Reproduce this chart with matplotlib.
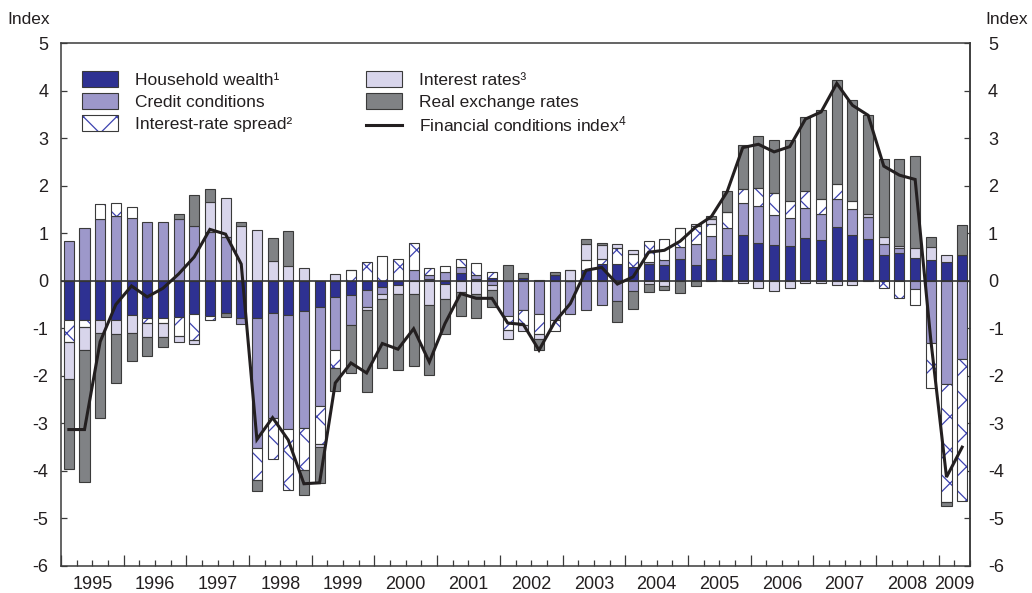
import numpy as np
import matplotlib
matplotlib.use("Agg")
import matplotlib.pyplot as plt
from matplotlib.patches import Patch
from matplotlib.lines import Line2D
from matplotlib.legend_handler import HandlerTuple
import matplotlib.transforms as mtransforms

plt.rcParams['font.family'] = ['Liberation Sans', 'DejaVu Sans']
plt.rcParams['axes.unicode_minus'] = False
plt.rcParams['hatch.linewidth'] = 0.9
plt.rcParams['mathtext.fontset'] = 'custom'
plt.rcParams['mathtext.rm'] = 'Liberation Sans'
plt.rcParams['mathtext.default'] = 'regular'

# ---------------- data (quarterly, 1995Q1 - 2009Q2) ----------------
years = [str(y) for y in range(1995, 2010)]
n_quarters = 58

household_wealth = [-0.83, -0.83, -0.83, -0.83, -0.72, -0.78, -0.78, -0.77, -0.70, -0.74,
                    -0.68, -0.78, -0.79, -0.67, -0.72, -0.64, -0.55, -0.35, -0.30, -0.20,
                    -0.14, -0.09, 0.00, 0.04, -0.07, 0.16, 0.03, 0.06, 0.00, 0.05,
                    0.02, 0.12, 0.00, 0.22, 0.36, 0.36, 0.29, 0.36, 0.33, 0.45,
                    0.33, 0.45, 0.55, 0.97, 0.80, 0.75, 0.73, 0.90, 0.85, 1.12,
                    0.97, 0.87, 0.54, 0.59, 0.47, 0.43, 0.39, 0.54]

credit_conditions = [0.83, 1.10, 1.30, 1.37, 1.31, 1.24, 1.24, 1.29, 1.16, 1.03,
                     0.92, -0.12, -2.72, -2.21, -2.39, -2.46, -2.09, -1.10, -0.63, -0.35,
                     -0.14, 0.00, 0.23, 0.09, 0.19, 0.12, 0.09, -0.09, -0.75, -0.62,
                     -0.69, -0.82, -0.71, -0.62, -0.50, -0.43, -0.22, 0.04, 0.10, 0.25,
                     0.45, 0.49, 0.56, 0.66, 0.77, 0.64, 0.58, 0.63, 0.56, 0.59,
                     0.53, 0.47, 0.23, 0.09, -0.17, -1.31, -2.17, -1.64]

interest_rate_spread = [-0.46, -0.15, 0.31, 0.27, 0.25, -0.10, -0.10, -0.39, -0.54, -0.09,
                        0.00, 0.00, -0.69, -0.88, -1.30, -0.88, -0.79, -0.38, 0.22, 0.40,
                        0.52, 0.46, 0.57, 0.13, 0.12, 0.18, 0.26, 0.13, -0.28, -0.32,
                        -0.44, -0.24, 0.00, 0.21, 0.10, 0.32, 0.28, 0.44, 0.44, 0.41,
                        0.37, 0.26, 0.34, 0.29, 0.38, 0.46, 0.36, 0.36, 0.30, 0.32,
                        0.18, 0.00, -0.15, -0.37, -0.35, -0.95, -2.49, -3.00]

interest_rates = [-0.78, -0.47, -0.27, -0.29, -0.37, -0.30, -0.30, -0.12, -0.09, 0.63,
                  0.82, 1.16, 1.07, 0.42, 0.31, 0.26, -0.06, 0.15, 0.00, -0.07,
                  -0.11, -0.19, -0.27, -0.50, -0.32, -0.23, -0.27, -0.11, -0.19, -0.12,
                  -0.09, 0.00, 0.22, 0.35, 0.29, 0.10, 0.08, -0.06, -0.12, 0.00,
                  0.05, 0.09, 0.00, -0.05, -0.16, -0.21, -0.15, -0.05, -0.05, -0.08,
                  -0.08, 0.07, 0.15, 0.06, 0.21, 0.27, 0.15, 0.00]

real_exchange_rates = [-1.88, -2.78, -1.78, -1.04, -0.60, -0.40, -0.21, 0.11, 0.64, 0.26,
                       -0.08, 0.08, -0.22, 0.47, 0.74, -0.53, -0.76, -0.49, -1.02, -1.73,
                       -1.45, -1.60, -1.53, -1.48, -0.74, -0.52, -0.51, -0.35, 0.33, 0.11,
                       -0.24, 0.07, 0.00, 0.09, 0.05, -0.44, -0.38, -0.17, -0.08, -0.25,
                       -0.12, 0.07, 0.44, 0.93, 1.10, 1.11, 1.30, 1.56, 1.89, 2.19,
                       2.13, 2.07, 1.65, 1.82, 1.94, 0.21, -0.07, 0.63]

financial_conditions_index = [-3.13, -3.13, -1.28, -0.50, -0.11, -0.34, -0.16, 0.14, 0.50, 1.08,
                              0.98, 0.35, -3.34, -2.88, -3.35, -4.27, -4.25, -2.15, -1.73, -1.94,
                              -1.32, -1.44, -1.01, -1.71, -0.90, -0.27, -0.37, -0.37, -0.89, -0.92,
                              -1.46, -0.87, -0.48, 0.22, 0.28, -0.07, 0.08, 0.60, 0.64, 0.83,
                              1.13, 1.35, 1.87, 2.80, 2.87, 2.71, 2.82, 3.40, 3.55, 4.15,
                              3.69, 3.48, 2.41, 2.22, 2.13, -1.25, -4.13, -3.50]

labels = ["Household wealth\u00b9", "Credit conditions", "Interest-rate spread\u00b2",
          "Interest rates\u00b3", "Real exchange rates", "Financial conditions index$^{4}$"]

# ---------------- styles ----------------
c_hw = '#2e3192'
c_cc = '#9d98ca'
c_irs = '#ffffff'
c_hatch = '#3d42b0'
c_ir = '#d8d5eb'
c_rer = '#808285'
c_edge = '#3a3a3a'
c_line = '#231f20'

fig = plt.figure(figsize=(10.32, 5.93), dpi=100)
ax = fig.add_axes([61/1032, 27/593, 909/1032, 523/593])

x = np.arange(n_quarters)
width = 0.64
pos_base = np.zeros(n_quarters)
neg_base = np.zeros(n_quarters)

series = [(household_wealth, c_hw, None),
          (credit_conditions, c_cc, None),
          (interest_rate_spread, c_irs, 'x'),
          (interest_rates, c_ir, None),
          (real_exchange_rates, c_rer, None)]

for vals, col, hatch in series:
    v = np.asarray(vals, dtype=float)
    bottom = np.where(v >= 0, pos_base, neg_base)
    if hatch:
        ax.bar(x, v, width, bottom=bottom, color=col, edgecolor=c_hatch, hatch=hatch,
               linewidth=0, zorder=2)
        ax.bar(x, v, width, bottom=bottom, fill=False, edgecolor=c_edge, linewidth=0.8, zorder=2.1)
    else:
        ax.bar(x, v, width, bottom=bottom, color=col, edgecolor=c_edge, linewidth=0.8, zorder=2)
    pos_base += np.clip(v, 0, None)
    neg_base += np.clip(v, None, 0)

ax.axhline(0, color='#333333', lw=1.2, zorder=3)
ax.plot(x, financial_conditions_index, color=c_line, lw=2.2, zorder=4, solid_joinstyle='miter')

# ---------------- axes ----------------
ax.set_xlim(-0.5, n_quarters - 0.5)
ax.set_ylim(-6, 5)
for s in ax.spines.values():
    s.set_color('#3a3a3a')
    s.set_linewidth(1.1)

yt = list(range(-6, 6))
ax.set_yticks(yt)
ax.set_yticklabels([str(t) for t in yt])
ax.tick_params(axis='y', direction='in', length=4, width=0.9, color='#3a3a3a',
               labelsize=13, pad=9, left=True, right=False, labelcolor='#231f20')
sec = ax.secondary_yaxis('right')
sec.set_yticks(yt)
sec.set_yticklabels([str(t) for t in yt])
sec.tick_params(axis='y', direction='in', length=4, width=0.9, color='#3a3a3a',
                labelsize=13, pad=13, labelcolor='#231f20')
sec.spines['right'].set_color('#3a3a3a')
sec.spines['right'].set_linewidth(1.1)

year_bounds = np.arange(-0.5, n_quarters, 4)
quarter_bounds = [b for b in np.arange(-0.5, n_quarters, 1) if b not in set(year_bounds)]
ax.set_xticks(year_bounds)
ax.set_xticks(quarter_bounds, minor=True)
ax.tick_params(axis='x', which='major', direction='in', length=8, width=0.9,
               color='#3a3a3a', labelbottom=False)
ax.tick_params(axis='x', which='minor', direction='in', length=4, width=0.9,
               color='#3a3a3a')

trans = mtransforms.blended_transform_factory(ax.transData, ax.transAxes)
for k, yr in enumerate(years):
    start = -0.5 + 4 * k
    end = min(start + 4, n_quarters - 0.5)
    ax.text((start + end) / 2, -0.044, yr, transform=trans, ha='center', va='baseline',
            fontsize=13, color='#231f20')

fig.text(7/1032, 1 - 19/593, 'Index', ha='left', va='center', fontsize=12.5, color='#231f20')
fig.text(985/1032, 1 - 19/593, 'Index', ha='left', va='center', fontsize=12.5, color='#231f20')

# ---------------- legend ----------------
h_hw = Patch(facecolor=c_hw, edgecolor=c_edge, linewidth=0.8)
h_cc = Patch(facecolor=c_cc, edgecolor=c_edge, linewidth=0.8)
h_irs = (Patch(facecolor='white', edgecolor=c_hatch, hatch='x', linewidth=0),
         Patch(fill=False, edgecolor=c_edge, linewidth=0.8))
h_ir = Patch(facecolor=c_ir, edgecolor=c_edge, linewidth=0.8)
h_rer = Patch(facecolor=c_rer, edgecolor=c_edge, linewidth=0.8)
h_fci = Line2D([], [], color=c_line, lw=2.2)

common = dict(frameon=False, fontsize=12.5, handlelength=2.1, handleheight=1.05,
              handletextpad=0.95, labelspacing=0.28, borderpad=0, borderaxespad=0,
              loc='upper left', handler_map={tuple: HandlerTuple(ndivide=1)})
leg1 = ax.legend([h_hw, h_cc, h_irs], labels[:3], bbox_to_anchor=(0.0231, 0.946), **common)
for t in leg1.get_texts():
    t.set_color('#231f20')
ax.add_artist(leg1)
leg2 = ax.legend([h_ir, h_rer, h_fci], labels[3:], bbox_to_anchor=(0.3355, 0.946), **common)
for t in leg2.get_texts():
    t.set_color('#231f20')

fig.savefig('out.png', dpi=100)
